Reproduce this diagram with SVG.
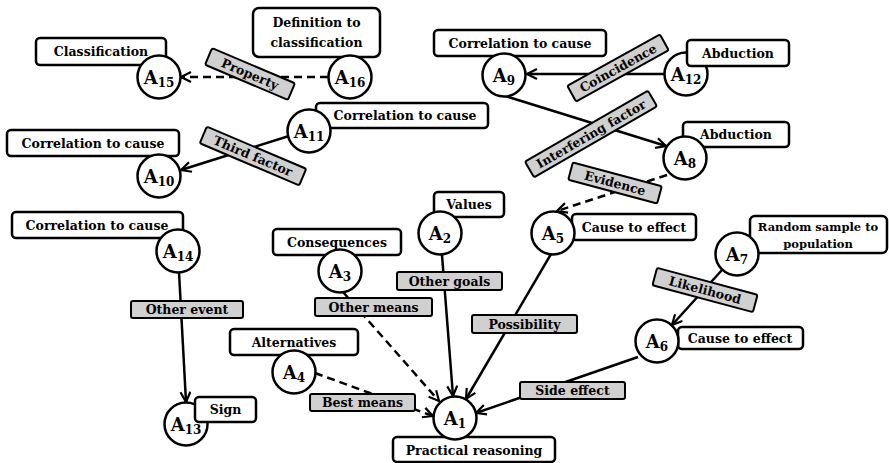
<svg xmlns="http://www.w3.org/2000/svg" width="889" height="463" viewBox="0 0 889 463">
<defs>
<marker id="arr" viewBox="0 0 12 12" refX="11" refY="6" markerWidth="12" markerHeight="12" markerUnits="userSpaceOnUse" orient="auto">
<path d="M1,1 L11,6 L1,11" fill="none" stroke="#000" stroke-width="2.2"/>
</marker>
<style>
.ln{stroke:#000;stroke-width:2.5;fill:none;marker-end:url(#arr)}
.ds{stroke-dasharray:8,5}
.bx{fill:#fff;stroke:#000;stroke-width:2.5}
.nd{fill:#fff;stroke:#000;stroke-width:2.5}
.lb{fill:#d0d0d0;stroke:#000;stroke-width:2}
text{font-family:'DejaVu Serif','Liberation Serif',serif;font-weight:bold;fill:#000;text-anchor:middle}
.t{font-size:12.5px}
.s{font-size:11.5px}
.a{font-size:18px}
.sub{font-size:12px}
</style>
</defs>
<rect width="889" height="463" fill="#fff"/>
<g id="connectors">
<line class="ln ds" x1="328" y1="77" x2="181" y2="77"/>
<line class="ln" x1="289" y1="136" x2="181" y2="170"/>
<line class="ln" x1="664" y1="74" x2="527" y2="74"/>
<line class="ln" x1="505" y1="96" x2="666" y2="146"/>
<line class="ln ds" x1="667" y1="175" x2="557" y2="211"/>
<line class="ln" x1="722" y1="270" x2="672" y2="325"/>
<line class="ln" x1="638" y1="357" x2="476" y2="413"/>
<line class="ln" x1="551" y1="254" x2="466" y2="399"/>
<line class="ln" x1="442" y1="255" x2="453" y2="396"/>
<line class="ln ds" x1="343" y1="292" x2="439" y2="401"/>
<line class="ln ds" x1="315" y1="373" x2="433" y2="416"/>
<line class="ln" x1="179" y1="272" x2="186" y2="402"/>
<g id="lbl-property" transform="translate(250,74) rotate(23)"><rect class="lb" x="-45" y="-9" width="90" height="18" rx="2"/><text class="t" y="4.5">Property</text></g>
<g id="lbl-third" transform="translate(253,156) rotate(23)"><rect class="lb" x="-54" y="-9" width="108" height="18" rx="2"/><text class="t" y="4.5">Third factor</text></g>
<g id="lbl-coinc" transform="translate(618,68) rotate(-29)"><rect class="lb" x="-53" y="-9" width="106" height="18" rx="2"/><text class="t" y="4.5">Coincidence</text></g>
<g id="lbl-interf" transform="translate(591,134) rotate(-30)"><rect class="lb" x="-71" y="-9" width="142" height="18" rx="2"/><text class="t" y="4.5">Interfering factor</text></g>
<g id="lbl-evid" transform="translate(615,183) rotate(15)"><rect class="lb" x="-46" y="-9" width="92" height="18" rx="2"/><text class="t" y="4.5">Evidence</text></g>
<g id="lbl-likeli" transform="translate(705,290) rotate(15)"><rect class="lb" x="-52" y="-9" width="104" height="18" rx="2"/><text class="t" y="4.5">Likelihood</text></g>
<g id="lbl-goals"><rect class="lb" x="397" y="272" width="105" height="18" rx="2"/><text class="t" x="449.5" y="285.5">Other goals</text></g>
<g id="lbl-means"><rect class="lb" x="315" y="298" width="117" height="18" rx="2"/><text class="t" x="373.5" y="311.5">Other means</text></g>
<g id="lbl-best"><rect class="lb" x="310" y="394" width="105" height="17" rx="2"/><text class="t" x="362.5" y="407">Best means</text></g>
<g id="lbl-poss"><rect class="lb" x="472" y="315" width="105" height="18" rx="2"/><text class="t" x="524.5" y="328.5">Possibility</text></g>
<g id="lbl-side"><rect class="lb" x="520" y="382" width="105" height="17" rx="2"/><text class="t" x="572.5" y="395">Side effect</text></g>
<g id="lbl-event"><rect class="lb" x="131" y="301" width="112" height="17" rx="2"/><text class="t" x="187" y="314">Other event</text></g>
</g>
<g id="A15"><rect class="bx" x="36" y="38" width="130" height="27" rx="4"/><text class="t" x="101" y="56">Classification</text><circle class="nd" cx="159" cy="77" r="21.5"/><text class="a" x="159" y="84">A<tspan class="sub" dy="3">15</tspan></text></g>
<g id="A16"><rect class="bx" x="253" y="8" width="127" height="49" rx="6"/><text class="t" x="316.5" y="27">Definition to</text><text class="t" x="316.5" y="47">classification</text><circle class="nd" cx="350" cy="77" r="21.5"/><text class="a" x="350" y="84">A<tspan class="sub" dy="3">16</tspan></text></g>
<g id="A11"><rect class="bx" x="316" y="103" width="172" height="25" rx="4"/><text class="t" x="405" y="120">Correlation to cause</text><circle class="nd" cx="309" cy="131" r="21.5"/><text class="a" x="309" y="138">A<tspan class="sub" dy="3">11</tspan></text></g>
<g id="A10"><rect class="bx" x="7" y="130" width="172" height="26" rx="4"/><text class="t" x="93" y="147.5">Correlation to cause</text><circle class="nd" cx="159" cy="176" r="21.5"/><text class="a" x="159" y="183">A<tspan class="sub" dy="3">10</tspan></text></g>
<g id="A9"><rect class="bx" x="434" y="30" width="172" height="26" rx="4"/><text class="t" x="520" y="47.5">Correlation to cause</text><circle class="nd" cx="504" cy="75" r="21.5"/><text class="a" x="504" y="82">A<tspan class="sub" dy="3">9</tspan></text></g>
<g id="A12"><circle class="nd" cx="686" cy="74" r="21.5"/><rect class="bx" x="687" y="40" width="102" height="26" rx="4"/><text class="t" x="738" y="57.5">Abduction</text><text class="a" x="686" y="81">A<tspan class="sub" dy="3">12</tspan></text></g>
<g id="A8"><rect class="bx" x="683" y="122" width="106" height="25" rx="4"/><text class="t" x="736" y="139">Abduction</text><circle class="nd" cx="685" cy="158" r="21.5"/><text class="a" x="685" y="165">A<tspan class="sub" dy="3">8</tspan></text></g>
<g id="A5"><rect class="bx" x="572" y="214" width="124" height="26" rx="4"/><text class="t" x="634" y="231.5">Cause to effect</text><circle class="nd" cx="553" cy="233" r="21.5"/><text class="a" x="553" y="240">A<tspan class="sub" dy="3">5</tspan></text></g>
<g id="A7"><rect class="bx" x="750" y="216" width="137" height="37" rx="5"/><text class="s" x="818" y="231">Random sample to</text><text class="s" x="818" y="248">population</text><circle class="nd" cx="737" cy="254" r="21.5"/><text class="a" x="737" y="261">A<tspan class="sub" dy="3">7</tspan></text></g>
<g id="A6"><rect class="bx" x="678" y="327" width="125" height="22" rx="4"/><text class="t" x="740" y="342.5">Cause to effect</text><circle class="nd" cx="657" cy="341" r="21.5"/><text class="a" x="657" y="348">A<tspan class="sub" dy="3">6</tspan></text></g>
<g id="A1"><rect class="bx" x="393" y="437" width="162" height="25" rx="4"/><text class="t" x="474" y="454.5">Practical reasoning</text><circle class="nd" cx="455" cy="418" r="21.5"/><text class="a" x="455" y="425">A<tspan class="sub" dy="3">1</tspan></text></g>
<g id="A2"><rect class="bx" x="434" y="192" width="70" height="25" rx="4"/><text class="t" x="469" y="209">Values</text><circle class="nd" cx="440" cy="233" r="21.5"/><text class="a" x="440" y="240">A<tspan class="sub" dy="3">2</tspan></text></g>
<g id="A3"><rect class="bx" x="273" y="229" width="128" height="26" rx="4"/><text class="t" x="337" y="246.5">Consequences</text><circle class="nd" cx="340" cy="271" r="21.5"/><text class="a" x="340" y="278">A<tspan class="sub" dy="3">3</tspan></text></g>
<g id="A4"><rect class="bx" x="230" y="329" width="128" height="26" rx="4"/><text class="t" x="294" y="346.5">Alternatives</text><circle class="nd" cx="294" cy="372" r="21.5"/><text class="a" x="294" y="379">A<tspan class="sub" dy="3">4</tspan></text></g>
<g id="A14"><rect class="bx" x="12" y="212" width="171" height="26" rx="4"/><text class="t" x="97" y="229.5">Correlation to cause</text><circle class="nd" cx="178" cy="251" r="21.5"/><text class="a" x="178" y="258">A<tspan class="sub" dy="3">14</tspan></text></g>
<g id="A13"><circle class="nd" cx="186" cy="424" r="21.5"/><text class="a" x="186" y="431">A<tspan class="sub" dy="3">13</tspan></text><rect class="bx" x="195" y="397" width="61" height="25" rx="4"/><text class="t" x="225.5" y="414">Sign</text></g>
</svg>
